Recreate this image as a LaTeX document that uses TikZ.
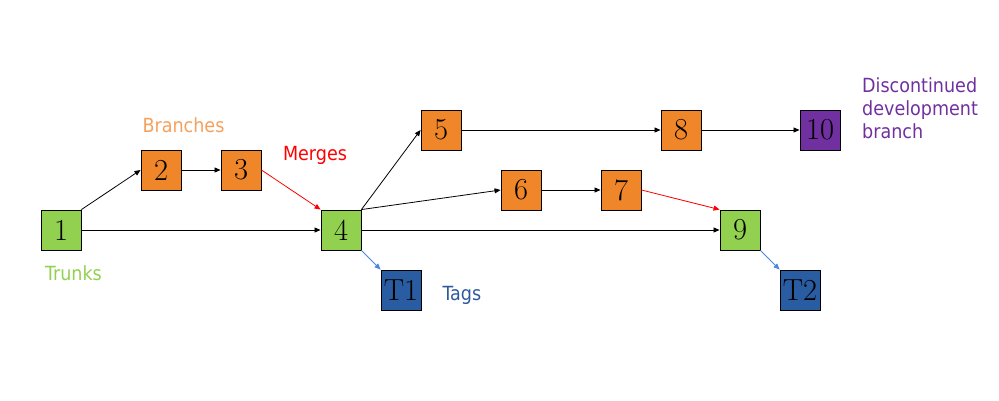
\documentclass[tikz,border=0pt]{standalone}
\usepackage{fontspec}
\newfontfamily\lab{DejaVu Sans Condensed}
\usetikzlibrary{arrows.meta}
\definecolor{corange}{HTML}{F0862A}
\definecolor{cgreen}{HTML}{92D050}
\definecolor{cpurple}{HTML}{7030A0}
\definecolor{cblue}{HTML}{2A5CA2}
\definecolor{tbranch}{HTML}{F4A15E}
\definecolor{ttag}{HTML}{2E5A9C}
\definecolor{larrow}{HTML}{4A86E0}
\tikzset{
  box/.style={draw=black, line width=0.9pt, minimum size=40pt, inner sep=0pt, font=\fontsize{30.5}{30.5}\selectfont},
  orbox/.style={box, fill=corange},
  grbox/.style={box, fill=cgreen},
  pubox/.style={box, fill=cpurple},
  blbox/.style={box, fill=cblue},
  lbl/.style={font=\lab\fontsize{19.5}{23}\selectfont, anchor=base, inner sep=0pt},
  conn/.style={line width=0.8pt, -{Triangle[length=6pt,width=5pt]}},
}
\begin{document}
\begin{tikzpicture}[x=1pt,y=-1pt]
\useasboundingbox (0,0) rectangle (999,400);
\node[grbox] (n1) at (61,230) {1};
\node[orbox] (n2) at (161,170) {2};
\node[orbox] (n3) at (241,170) {3};
\node[grbox] (n4) at (341,230) {4};
\node[orbox] (n5) at (441,130) {5};
\node[orbox] (n6) at (521,190) {6};
\node[orbox] (n7) at (621,190) {7};
\node[orbox] (n8) at (681,130) {8};
\node[grbox] (n9) at (740,230) {9};
\node[pubox] (n10) at (820,130) {10};
\node[blbox] (t1) at (401,290) {T1};
\node[blbox] (t2) at (800,290) {T2};

\node[lbl, text=tbranch] (lb) at (183.5,132) {Branches};
\node[lbl, text=red] (lm) at (315,160) {Merges};
\node[lbl, text=cgreen] (lt) at (73.5,280) {Trunks};
\node[lbl, text=ttag] (lg) at (462,300) {Tags};
\node[lbl, text=cpurple, anchor=north west, align=left] (ld) at (862,77.5) {Discontinued\\development\\branch};

\draw[conn] (n1.north east) -- (n2.west);
\draw[conn] (n1.east) -- (n4.west);
\draw[conn] (n2.east) -- (n3.west);
\draw[conn, red] (n3.east) -- (n4.north west);
\draw[conn] (n4.north east) -- (n5.west);
\draw[conn] (n4.north east) -- (n6.west);
\draw[conn] (n4.east) -- (n9.west);
\draw[conn, larrow] (n4.south east) -- (t1.north west);
\draw[conn] (n5.east) -- (n8.west);
\draw[conn] (n8.east) -- (n10.west);
\draw[conn] (n6.east) -- (n7.west);
\draw[conn, red] (n7.east) -- (n9.north west);
\draw[conn, larrow] (n9.south east) -- (t2.north west);
\end{tikzpicture}
\end{document}
